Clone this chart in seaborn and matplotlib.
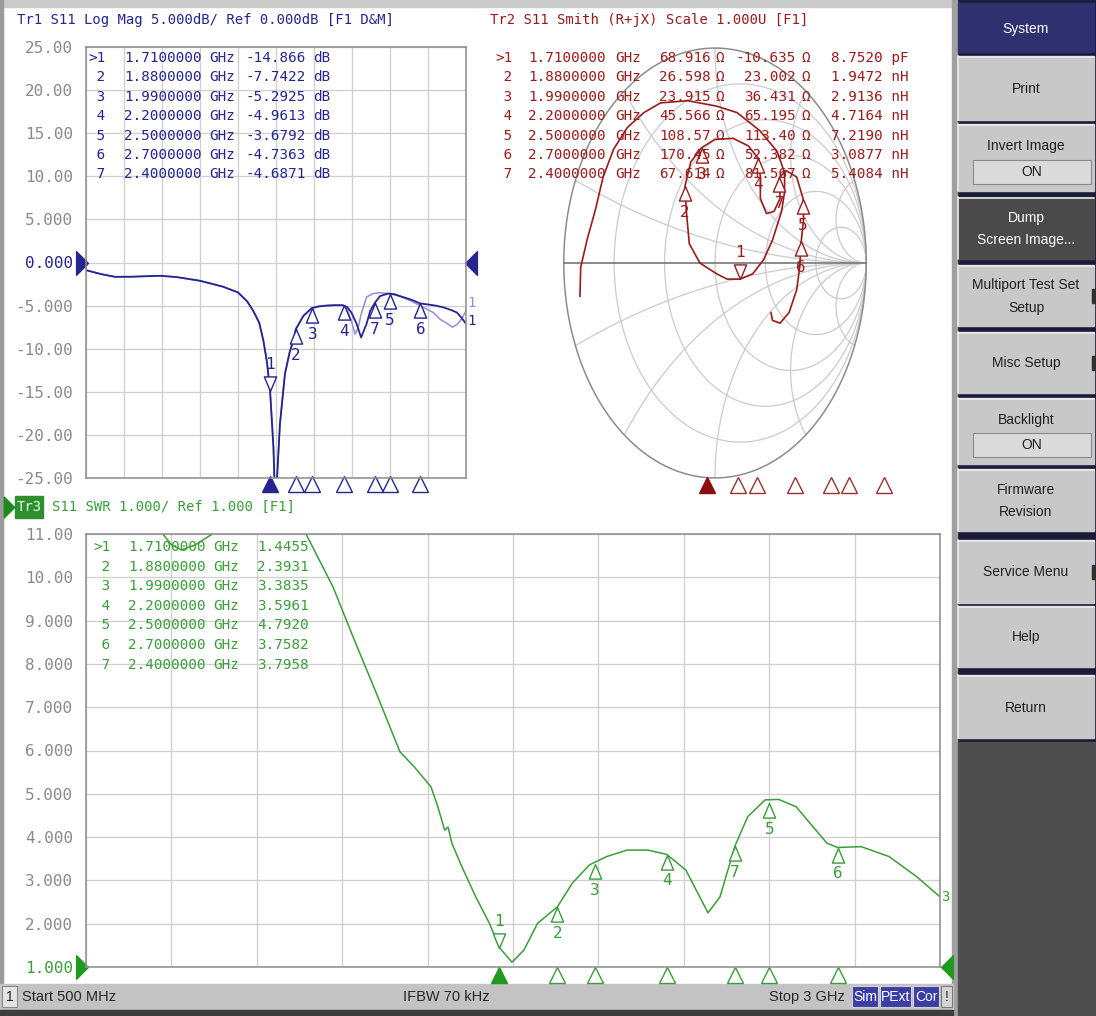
import numpy as np
import pandas as pd
import seaborn as sns
import matplotlib
matplotlib.use("Agg")
import matplotlib.pyplot as plt
from matplotlib.patches import Rectangle
from matplotlib.path import Path
from matplotlib import font_manager

# ---------------- data ----------------
marker_ids = ["1", "2", "3", "4", "5", "6", "7"]
marker_freq = [1.71, 1.88, 1.99, 2.20, 2.50, 2.70, 2.40]
marker_db = [-14.866, -7.7422, -5.2925, -4.9613, -3.6792, -4.7363, -4.6871]
marker_swr = [1.4455, 2.3931, 3.3835, 3.5961, 4.7920, 3.7582, 3.7958]
marker_r = [68.916, 26.598, 23.915, 45.566, 108.57, 170.45, 67.614]
marker_x = [-10.635, 23.002, 36.431, 65.195, 113.40, 52.382, 81.567]
marker_lc = ["8.7520 pF", "1.9472 nH", "2.9136 nH", "4.7164 nH",
             "7.2190 nH", "3.0877 nH", "5.4084 nH"]
db_text = ["-14.866", "-7.7422", "-5.2925", "-4.9613", "-3.6792", "-4.7363", "-4.6871"]
swr_text = ["1.4455", "2.3931", "3.3835", "3.5961", "4.7920", "3.7582", "3.7958"]
r_text = ["68.916", "26.598", "23.915", "45.566", "108.57", "170.45", "67.614"]
x_text = ["-10.635", "23.002", "36.431", "65.195", "113.40", "52.382", "81.567"]
freq_text = ["1.7100000", "1.8800000", "1.9900000", "2.2000000",
             "2.5000000", "2.7000000", "2.4000000"]

# Tr1 log mag (data trace), GHz / dB
lm_freq = [0.50, 0.60, 0.69, 0.80, 0.99, 1.10, 1.25, 1.40, 1.50, 1.56, 1.60, 1.64,
           1.667, 1.69, 1.711, 1.733, 1.743, 1.754, 1.776, 1.809, 1.84, 1.864, 1.88,
           1.93, 1.985, 2.03, 2.08, 2.14, 2.19, 2.22, 2.246, 2.28, 2.31, 2.346, 2.37,
           2.40, 2.434, 2.489, 2.53, 2.566, 2.62, 2.653, 2.697, 2.741, 2.80, 2.85,
           2.90, 2.94, 2.97, 3.00]
lm_db = [-0.89, -1.35, -1.66, -1.65, -1.54, -1.70, -2.12, -2.8, -3.47, -4.5, -5.6, -7.0,
         -9.07, -11.5, -14.87, -21.4, -27.0, -26.0, -18.7, -12.9, -10.4, -9.07, -7.74,
         -6.2, -5.29, -5.1, -5.0, -4.95, -4.96, -5.2, -5.8, -7.1, -8.7, -7.1, -5.6,
         -4.69, -3.9, -3.6, -3.68, -3.9, -4.2, -4.4, -4.74, -4.85, -5.0, -5.2,
         -5.5, -5.8, -6.4, -7.1]
# Tr1 memory trace where it leaves the data trace
mem_freq = [2.22, 2.246, 2.27, 2.29, 2.31, 2.346, 2.39, 2.43, 2.49, 2.56, 2.63,
            2.72, 2.785, 2.83, 2.87, 2.91, 2.94, 2.97, 3.00]
mem_db = [-5.5, -6.8, -8.3, -7.6, -6.0, -4.0, -3.6, -3.5, -3.6, -3.9, -4.4,
          -5.2, -5.8, -6.6, -7.0, -7.5, -7.2, -6.6, -5.6]

# Tr3 SWR
swr_freq = [0.50, 0.60, 0.70, 0.725, 0.75, 0.78, 0.82, 0.87, 0.95, 1.05, 1.144, 1.223,
            1.282, 1.346, 1.419, 1.46, 1.51, 1.53, 1.55, 1.56, 1.571, 1.60, 1.641,
            1.681, 1.71, 1.747, 1.782, 1.822, 1.88, 1.923, 1.974, 2.024, 2.084,
            2.145, 2.20, 2.256, 2.286, 2.321, 2.356, 2.40, 2.437, 2.488, 2.528,
            2.579, 2.628, 2.669, 2.70, 2.769, 2.851, 2.931, 3.00]
swr_val = [19.0, 14.0, 11.3, 11.0, 10.75, 10.63, 10.75, 11.0, 11.6, 11.7, 11.0, 9.78,
           8.62, 7.40, 5.97, 5.63, 5.16, 4.70, 4.16, 4.23, 3.86, 3.32, 2.62,
           2.01, 1.45, 1.11, 1.39, 2.01, 2.39, 2.93, 3.36, 3.55, 3.70,
           3.70, 3.60, 3.24, 2.78, 2.25, 2.62, 3.80, 4.47, 4.86, 4.87,
           4.70, 4.24, 3.86, 3.76, 3.78, 3.55, 3.09, 2.62]

# Tr2 Smith trace, reflection coefficient (re, im), in sweep order
smith_re = [-0.893, -0.888, -0.845, -0.79, -0.74, -0.67, -0.58, -0.47, -0.36, -0.18,
            0.01, 0.145, 0.296, 0.41, 0.46, 0.46, 0.44, 0.38, 0.32, 0.25, 0.166,
            0.08, 0.01, -0.10, -0.17, -0.19, -0.198, -0.16, -0.088, 0.0, 0.12, 0.22,
            0.286, 0.30, 0.30, 0.34, 0.39, 0.43, 0.426, 0.47, 0.54, 0.583, 0.585,
            0.57, 0.56, 0.54, 0.49, 0.43, 0.38, 0.37]
smith_im = [-0.156, -0.02, 0.11, 0.25, 0.40, 0.53, 0.63, 0.70, 0.745, 0.755,
            0.73, 0.70, 0.616, 0.52, 0.42, 0.33, 0.24, 0.106, 0.014, -0.05, -0.075,
            -0.075, -0.05, 0.0, 0.09, 0.245, 0.36, 0.47, 0.537, 0.575, 0.58, 0.545,
            0.487, 0.40, 0.30, 0.23, 0.24, 0.30, 0.398, 0.43, 0.40, 0.298, 0.20,
            0.10, -0.02, -0.125, -0.23, -0.28, -0.267, -0.23]

db_ticks = [25, 20, 15, 10, 5, 0, -5, -10, -15, -20, -25]
db_labels = ["25.00", "20.00", "15.00", "10.00", "5.000", "0.000", "-5.000",
             "-10.00", "-15.00", "-20.00", "-25.00"]
swr_ticks = [11, 10, 9, 8, 7, 6, 5, 4, 3, 2, 1]
swr_labels = ["11.00", "10.00", "9.000", "8.000", "7.000", "6.000", "5.000",
              "4.000", "3.000", "2.000", "1.000"]
freq_grid = [0.5, 0.75, 1.0, 1.25, 1.5, 1.75, 2.0, 2.25, 2.5, 2.75, 3.0]
smith_r_circles = [0.2, 0.5, 1.0, 2.0, 5.0]
smith_x_arcs = [0.2, 0.5, 1.0, 2.0, 5.0]

# softkey label, top px, bottom px, kind, has submenu notch
softkeys = [("System", 3, 52, "head", False), ("Print", 56, 120, "key", False),
            ("Invert Image", 124, 191, "on", False),
            ("Dump\nScreen Image...", 197, 259, "dark", False),
            ("Multiport Test Set\nSetup", 265, 326, "key", True),
            ("Misc Setup", 332, 393, "key", True),
            ("Backlight", 398, 464, "on", False), ("Firmware\nRevision", 469, 531, "key", False),
            ("Service Menu", 540, 603, "key", True), ("Help", 606, 667, "key", False),
            ("Return", 675, 738, "key", False)]

# ---------------- style ----------------
W, H = 1096, 1016
sns.set_theme(style="white")
names = {f.name for f in font_manager.fontManager.ttflist}
ui_font = "Liberation Sans Narrow" if "Liberation Sans Narrow" in names else "Liberation Sans"
mono = "DejaVu Sans Mono"
plt.rcParams["font.family"] = ["DejaVu Sans"]

navy = "#25258f"
navy_light = "#8f8fdc"
red = "#981c1c"
green = "#3a9d3a"
grid_c = "#cfcfcf"
frame_c = "#8c8c8c"
label_c = "#8a8a8a"
tsize = 10.3

fig = plt.figure(figsize=(W / 100, H / 100), dpi=100, facecolor="white")


def rect(l, t, r, b):
    return [l / W, 1 - b / H, (r - l) / W, (b - t) / H]


def ftext(x, y, s, **kw):
    fig.text(x / W, 1 - y / H, s, **kw)


# background / instrument frame
bg = fig.add_axes([0, 0, 1, 1])
bg.set_xlim(0, W)
bg.set_ylim(H, 0)
bg.axis("off")
bg.set_zorder(-1)
bg.add_patch(Rectangle((0, 0), 955, 7, color="#cbcbcb"))
bg.add_patch(Rectangle((0, 0), 3, 1016, color="#9a9a9a"))
bg.add_patch(Rectangle((953, 0), 143, 1016, color="#1b1b3a"))
bg.add_patch(Rectangle((952, 0), 5, 1016, color="#a0a0a0"))
bg.add_patch(Rectangle((958, 742), 138, 274, color="#4e4e4e"))

for label, top, bot, kind, notch in softkeys:
    face = {"head": "#2f3070", "dark": "#4a4a4a"}.get(kind, "#c8c8c8")
    tcol = "white" if kind in ("head", "dark") else "#202020"
    bg.add_patch(Rectangle((958, top), 136, bot - top, color=face))
    if kind != "head":
        bg.plot([958, 1094], [top + 1, top + 1], color="#ececec", lw=1.2)
        bg.plot([958, 958], [top, bot], color="#ececec", lw=1.2)
    if notch:
        bg.add_patch(Rectangle((1092, (top + bot) / 2 - 7), 4, 14, color="#303030"))
    if kind == "on":
        bg.text(1026, top + 22, label, ha="center", va="center", color=tcol,
                fontsize=10, family=ui_font)
        bg.add_patch(Rectangle((973, bot - 31), 118, 24, facecolor="#dadada",
                               edgecolor="#8a8a8a", lw=0.8))
        bg.text(1032, bot - 19, "ON", ha="center", va="center", color=tcol,
                fontsize=10, family=ui_font)
    else:
        bg.text(1026, (top + bot) / 2 + 1, label, ha="center", va="center", color=tcol,
                fontsize=10, family=ui_font, linespacing=1.75)

# status bar
bg.add_patch(Rectangle((0, 984), 953, 26, color="#c3c3c3"))
bg.add_patch(Rectangle((0, 1010), 953, 6, color="#3c3c3c"))
bg.add_patch(Rectangle((2, 986), 15, 21, facecolor="#e4e4e4", edgecolor="#8a8a8a", lw=0.8))
bg.text(9.5, 997, "1", ha="center", va="center", fontsize=10, family=ui_font)
bg.text(22, 997, "Start 500 MHz", ha="left", va="center", fontsize=10.5, family=ui_font)
bg.text(403, 997, "IFBW 70 kHz", ha="left", va="center", fontsize=10.5, family=ui_font)
bg.text(845, 997, "Stop 3 GHz", ha="right", va="center", fontsize=10.5, family=ui_font)
for lab, x0, x1 in [("Sim", 852, 878), ("PExt", 880, 911), ("Cor", 913, 939)]:
    bg.add_patch(Rectangle((x0, 986), x1 - x0, 21, facecolor="#3b3fa5", edgecolor="#d0d0d0", lw=0.8))
    bg.text((x0 + x1) / 2, 997, lab, ha="center", va="center", color="white",
            fontsize=10, family=ui_font)
bg.add_patch(Rectangle((941, 986), 11, 21, facecolor="#d4d4d4", edgecolor="#7a7a7a", lw=0.8))
bg.text(946.5, 997, "!", ha="center", va="center", fontsize=10, family=ui_font)

# marker shapes: apex sits on the data point
tri_up = Path([(0, 0), (-0.42, -1), (0.42, -1), (0, 0)],
              [Path.MOVETO, Path.LINETO, Path.LINETO, Path.CLOSEPOLY])
tri_dn = Path([(0, 0), (-0.42, 1), (0.42, 1), (0, 0)],
              [Path.MOVETO, Path.LINETO, Path.LINETO, Path.CLOSEPOLY])
ref_right = Path([(-0.5, 1), (0.5, 0), (-0.5, -1), (-0.5, 1)],
                 [Path.MOVETO, Path.LINETO, Path.LINETO, Path.CLOSEPOLY])
ref_left = Path([(0.5, 1), (-0.5, 0), (0.5, -1), (0.5, 1)],
                [Path.MOVETO, Path.LINETO, Path.LINETO, Path.CLOSEPOLY])


def draw_markers(ax, xs, ys, color):
    for i, (mx, my) in enumerate(zip(xs, ys)):
        active = i == 0
        ax.plot(mx, my, marker=tri_dn if active else tri_up, ms=21, mfc="white",
                mec=color, mew=1.0, ls="none", zorder=6)
        ax.annotate(marker_ids[i], (mx, my), xytext=(0, 19 if active else -19),
                    textcoords="offset points", ha="center", va="center",
                    color=color, fontsize=11.5, family=mono, zorder=7)


def stim_markers(ax, ypos, color, fill):
    tr = ax.get_xaxis_transform()
    for i, f in enumerate(marker_freq):
        ax.plot(f, ypos, marker="^", ms=11, mfc=fill if i == 0 else "white",
                mec=fill if i == 0 else color, mew=1.0, transform=tr, clip_on=False,
                ls="none")


def style_rect_axes(ax, ticks, labels, ref_idx, ref_color):
    ax.set_xticks(freq_grid)
    ax.set_yticks(ticks)
    ax.set_yticklabels(labels, family=mono, fontsize=11.5, color=label_c)
    ax.get_yticklabels()[ref_idx].set_color(ref_color)
    ax.tick_params(axis="both", length=0, pad=9)
    ax.tick_params(axis="x", labelbottom=False)
    ax.grid(True, color=grid_c, lw=0.9)
    for sp in ax.spines.values():
        sp.set_color(frame_c)
        sp.set_linewidth(1.1)
    ax.set_xlabel("")
    ax.set_ylabel("")


# ---------------- Tr1 log mag ----------------
ax1 = fig.add_axes(rect(86, 47, 466, 478))
lm = pd.DataFrame({"freq": lm_freq, "db": lm_db})
mem = pd.concat([lm[lm["freq"] <= 2.2], pd.DataFrame({"freq": mem_freq, "db": mem_db})])
sns.lineplot(data=mem, x="freq", y="db", ax=ax1, color=navy_light, lw=1.1,
             estimator=None, sort=False)
sns.lineplot(data=lm, x="freq", y="db", ax=ax1, color=navy, lw=1.3,
             estimator=None, sort=False)
ax1.set_xlim(0.5, 3.0)
ax1.set_ylim(-25, 25)
style_rect_axes(ax1, db_ticks, db_labels, 5, navy)
draw_markers(ax1, marker_freq, marker_db, navy)
stim_markers(ax1, -0.014, navy, navy)
ax1.plot(-0.011, 0, marker=ref_right, ms=17, color=navy, ls="none",
         transform=ax1.get_yaxis_transform(), clip_on=False)
ax1.plot(1.013, 0, marker=ref_left, ms=17, color=navy, ls="none",
         transform=ax1.get_yaxis_transform(), clip_on=False)

ftext(17, 20, "Tr1 S11 Log Mag 5.000dB/ Ref 0.000dB [F1 D&M]", family=mono,
      fontsize=10, color=navy, va="center")
ftext(467, 303, "1", family=mono, fontsize=10, color=navy_light, va="center")
ftext(467, 321, "1", family=mono, fontsize=10, color=navy, va="center")
for i in range(7):
    y = 58 + 19.4 * i
    kw = dict(family=mono, fontsize=tsize, color=navy, va="center")
    ftext(88, y, (">" if i == 0 else " ") + marker_ids[i], **kw)
    ftext(124, y, freq_text[i], **kw)
    ftext(209, y, "GHz", **kw)
    ftext(306, y, db_text[i], ha="right", **kw)
    ftext(313, y, "dB", **kw)

# ---------------- Tr2 Smith ----------------
ax2 = fig.add_axes(rect(563, 47, 867, 479))
ax2.set_xlim(-1.005, 1.005)
ax2.set_ylim(-1.005, 1.005)
ax2.axis("off")
t = np.linspace(0, 2 * np.pi, 600)
for r in smith_r_circles:
    ax2.plot(r / (1 + r) + np.cos(t) / (1 + r), np.sin(t) / (1 + r), color="#cbcbcb", lw=0.9)
rr = np.concatenate([[0], np.logspace(-3, 3, 600)])
for xv in smith_x_arcs:
    for sgn in (1, -1):
        g = (rr + 1j * sgn * xv - 1) / (rr + 1j * sgn * xv + 1)
        ax2.plot(g.real, g.imag, color="#cbcbcb", lw=0.9)
ax2.plot(np.cos(t), np.sin(t), color="#8c8c8c", lw=1.1)
ax2.plot([-1, 1], [0, 0], color="#777777", lw=1.2)
sm = pd.DataFrame({"re": smith_re, "im": smith_im})
sns.lineplot(data=sm, x="re", y="im", ax=ax2, color=red, lw=1.2, estimator=None, sort=False)
ax2.set_xlabel("")
ax2.set_ylabel("")
z = (np.array(marker_r) + 1j * np.array(marker_x)) / 50.0
gam = (z - 1) / (z + 1)
draw_markers(ax2, gam.real, gam.imag, red)

ax2m = fig.add_axes(rect(491, 478, 938, 492))
ax2m.set_xlim(0.5, 3.0)
ax2m.axis("off")
stim_markers(ax2m, 0.5, "#9a3030", "#8b0f0f")

ftext(490, 20, "Tr2 S11 Smith (R+jX) Scale 1.000U [F1]", family=mono, fontsize=10,
      color=red, va="center")
for i in range(7):
    y = 58 + 19.4 * i
    kw = dict(family=mono, fontsize=tsize, color=red, va="center", zorder=8)
    ftext(495, y, (">" if i == 0 else " ") + marker_ids[i], **kw)
    ftext(528, y, freq_text[i], **kw)
    ftext(615, y, "GHz", **kw)
    ftext(711, y, r_text[i], ha="right", **kw)
    ftext(716, y, "Ω", **kw)
    ftext(796, y, x_text[i], ha="right", **kw)
    ftext(802, y, "Ω", **kw)
    ftext(831, y, marker_lc[i], **kw)

# ---------------- Tr3 SWR ----------------
ax3 = fig.add_axes(rect(86, 534, 940, 967))
sw = pd.DataFrame({"freq": swr_freq, "swr": swr_val})
sns.lineplot(data=sw, x="freq", y="swr", ax=ax3, color=green, lw=1.1,
             estimator=None, sort=False)
ax3.set_xlim(0.5, 3.0)
ax3.set_ylim(1, 11)
style_rect_axes(ax3, swr_ticks, swr_labels, 10, green)
draw_markers(ax3, marker_freq, marker_swr, green)
stim_markers(ax3, -0.019, green, "#1f9a1f")
ax3.plot(-0.0047, 1, marker=ref_right, ms=17, color="#1f9a1f", ls="none",
         transform=ax3.get_yaxis_transform(), clip_on=False)
ax3.plot(1.0082, 1, marker=ref_left, ms=17, color="#1f9a1f", ls="none",
         transform=ax3.get_yaxis_transform(), clip_on=False)
ftext(941, 897, "3", family=mono, fontsize=10, color=green, va="center")

bg.add_patch(Rectangle((15, 496), 28, 22, color="#2d8f2d"))
bg.text(29, 507, "Tr3", ha="center", va="center", color="#e8ffe8", family=mono, fontsize=10)
bg.plot(9, 507, marker=ref_right, ms=15, color="#1f8a1f", ls="none")
ftext(52, 507, "S11 SWR 1.000/ Ref 1.000 [F1]", family=mono, fontsize=10,
      color=green, va="center")
for i in range(7):
    y = 547 + 19.6 * i
    kw = dict(family=mono, fontsize=tsize, color=green, va="center")
    ftext(93, y, (">" if i == 0 else " ") + marker_ids[i], **kw)
    ftext(128, y, freq_text[i], **kw)
    ftext(213, y, "GHz", **kw)
    ftext(257, y, swr_text[i], **kw)

fig.savefig("out.png", dpi=100, facecolor="white")
